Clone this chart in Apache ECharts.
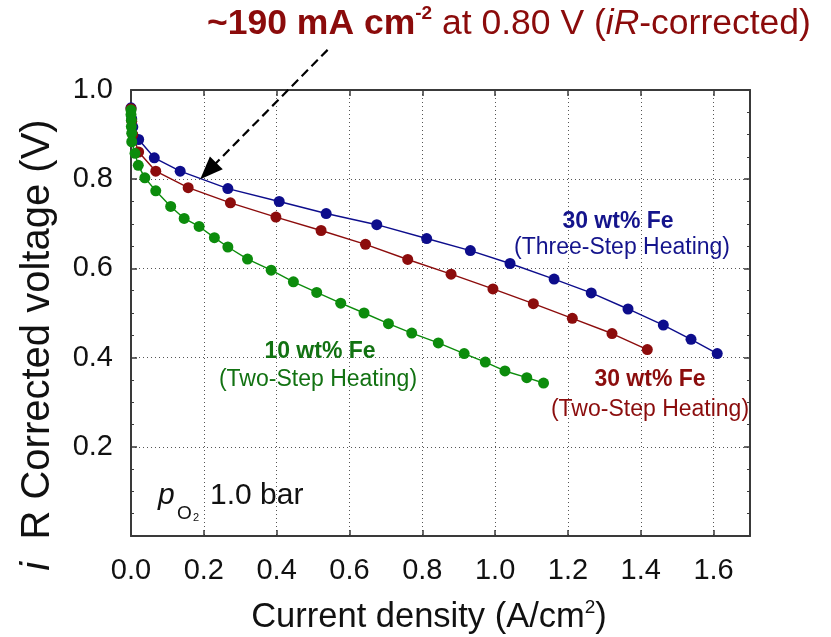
<!DOCTYPE html>
<html>
<head>
<meta charset="utf-8">
<script src="https://cdn.jsdelivr.net/npm/echarts@6/dist/echarts.min.js"></script>
<style>html,body{margin:0;padding:0;background:#fff}#c{width:831px;height:637px}</style>
</head>
<body>
<div id="c"></div>
<script>
// ---- data ----
const xTickLabels = ['0.0','0.2','0.4','0.6','0.8','1.0','1.2','1.4','1.6'];
const yTickLabels = ['0.2','0.4','0.6','0.8','1.0'];

const threeStep30X = [0.000, 0.002, 0.005, 0.021, 0.064, 0.135, 0.266, 0.407, 0.536, 0.675, 0.812, 0.932, 1.041, 1.162, 1.264, 1.365, 1.462, 1.538, 1.610];
const threeStep30Y = [0.960, 0.935, 0.917, 0.889, 0.848, 0.818, 0.779, 0.750, 0.723, 0.698, 0.667, 0.640, 0.611, 0.576, 0.545, 0.509, 0.473, 0.441, 0.409];

const twoStep30X = [0.000, 0.002, 0.005, 0.021, 0.068, 0.157, 0.273, 0.398, 0.522, 0.644, 0.760, 0.879, 0.994, 1.105, 1.212, 1.321, 1.418];
const twoStep30Y = [0.958, 0.930, 0.900, 0.861, 0.818, 0.781, 0.747, 0.715, 0.685, 0.654, 0.620, 0.587, 0.554, 0.521, 0.488, 0.454, 0.418];

const twoStep10X = [0.000, 0.000, 0.001, 0.001, 0.002, 0.002, 0.011, 0.020, 0.038, 0.068, 0.109, 0.146, 0.187, 0.229, 0.266, 0.320, 0.385, 0.446, 0.510, 0.576, 0.640, 0.707, 0.771, 0.844, 0.915, 0.973, 1.027, 1.087, 1.133];
const twoStep10Y = [0.955, 0.945, 0.932, 0.918, 0.903, 0.884, 0.858, 0.831, 0.803, 0.774, 0.739, 0.712, 0.694, 0.669, 0.648, 0.621, 0.596, 0.570, 0.546, 0.522, 0.500, 0.476, 0.455, 0.433, 0.409, 0.390, 0.370, 0.355, 0.343];

const arrowTip = [0.19, 0.80];
const arrowTail = [0.54, 1.09];

// ---- chart ----
const FONT = '"Liberation Sans", Arial, Helvetica, sans-serif';
const BLUE = '#0d0d8c', RED = '#8c0c0c', GREEN = '#0c8c0c';
const AXC = '#3a3a3a';
const zip = (xs, ys) => xs.map((x, i) => [x, ys[i]]);
const fmt = v => v.toFixed(1);

const chart = echarts.init(document.getElementById('c'), null, {renderer: 'canvas'});

const gridLine = {show: true, lineStyle: {type: [1, 3], color: '#555', width: 1}};
function xAx(pos, labels) {
  return {
    type: 'value', min: 0, max: 1.7, interval: 0.2, position: pos, gridIndex: 0,
    axisLine: {show: true, onZero: false, lineStyle: {color: AXC, width: 2}},
    axisTick: {show: true, inside: true, length: 6, lineStyle: {color: AXC, width: 1.5}},
    axisLabel: {show: labels, fontSize: 29, fontFamily: FONT, color: '#111', margin: 20, showMaxLabel: false,
      formatter: v => { const s = fmt(v); return xTickLabels.indexOf(s) >= 0 ? s : ''; }},
    splitLine: labels ? gridLine : {show: false}
  };
}
function yAx(pos, labels) {
  return {
    type: 'value', min: 0, max: 1.0, interval: 0.2, position: pos, gridIndex: 0,
    axisLine: {show: true, onZero: false, lineStyle: {color: AXC, width: 2}},
    axisTick: {show: true, inside: true, length: 6, lineStyle: {color: AXC, width: 1.5}},
    minorTick: {show: true, splitNumber: 4, length: 3, lineStyle: {color: AXC, width: 1}},
    axisLabel: {show: labels, fontSize: 29, fontFamily: FONT, color: '#111', margin: 18, showMinLabel: false,
      formatter: v => { const s = fmt(v); return yTickLabels.indexOf(s) >= 0 ? s : ''; }},
    splitLine: labels ? gridLine : {show: false}
  };
}
function ser(name, xs, ys, color) {
  return {
    name, type: 'line', data: zip(xs, ys), symbol: 'circle', symbolSize: 11, clip: false,
    itemStyle: {color}, lineStyle: {color, width: 1.4}, emphasis: {disabled: true}
  };
}

function txt(x, y, text, color, size, weight) {
  return {
    type: 'text', x, y, z: 50,
    style: {text, fill: color, fontSize: size, fontWeight: weight || 'normal', fontFamily: FONT,
      textAlign: 'center', textVerticalAlign: 'middle'}
  };
}

const option = {
  animation: false,
  backgroundColor: '#fff',
  grid: {left: 131, top: 90, width: 619, height: 446, containLabel: false},
  xAxis: [xAx('bottom', true), xAx('top', false)],
  yAxis: [yAx('left', true), yAx('right', false)],
  series: [
    ser('30 wt% Fe (Three-Step Heating)', threeStep30X, threeStep30Y, BLUE),
    ser('30 wt% Fe (Two-Step Heating)', twoStep30X, twoStep30Y, RED),
    ser('10 wt% Fe (Two-Step Heating)', twoStep10X, twoStep10Y, GREEN)
  ]
};
chart.setOption(option);

const tip = chart.convertToPixel({gridIndex: 0}, arrowTip);
const tail = chart.convertToPixel({gridIndex: 0}, arrowTail);
const dx = tip[0] - tail[0], dy = tip[1] - tail[1];
const L = Math.sqrt(dx * dx + dy * dy), ux = dx / L, uy = dy / L;
const headLen = 23, headW = 9;
const base = [tip[0] - ux * headLen, tip[1] - uy * headLen];
const px = -uy, py = ux;

const graphics = [
  // top annotation
  {
    type: 'text', x: 207, y: 24, z: 50,
    style: {
      text: '{b|~190 mA cm}{s|-2}{n| at 0.80 V (}{i|iR}{n|-corrected)}',
      textAlign: 'left', textVerticalAlign: 'middle', fontFamily: FONT, fill: '#8b0b0b',
      rich: {
        b: {fontSize: 35.5, fontWeight: 'bold', fill: '#8b0b0b', fontFamily: FONT, lineHeight: 40},
        s: {fontSize: 19, fontWeight: 'bold', fill: '#8b0b0b', fontFamily: FONT, verticalAlign: 'top', lineHeight: 19},
        n: {fontSize: 35.5, fill: '#8b0b0b', fontFamily: FONT, lineHeight: 40},
        i: {fontSize: 35.5, fontStyle: 'italic', fill: '#8b0b0b', fontFamily: FONT, lineHeight: 40}
      }
    }
  },
  // arrow
  {
    type: 'line', z: 40,
    shape: {x1: tail[0], y1: tail[1], x2: base[0] + ux * 2, y2: base[1] + uy * 2},
    style: {stroke: '#000', lineWidth: 2.2, lineDash: [9, 5]}
  },
  {
    type: 'polygon', z: 41,
    shape: {points: [tip, [base[0] + px * headW, base[1] + py * headW], [base[0] - px * headW, base[1] - py * headW]]},
    style: {fill: '#000'}
  },
  // series annotations
  txt(618, 222, '30 wt% Fe', '#14148c', 23, 'bold'),
  txt(622, 248, '(Three-Step Heating)', '#14148c', 23),
  txt(650, 380, '30 wt% Fe', '#8b0d0d', 23, 'bold'),
  txt(650, 410, '(Two-Step Heating)', '#8b0d0d', 23),
  txt(320, 352, '10 wt% Fe', '#127212', 23, 'bold'),
  txt(318, 380, '(Two-Step Heating)', '#127212', 23),
  // p_O2 1.0 bar
  {type: 'text', x: 158, y: 496, z: 50, style: {text: 'p', fill: '#111', fontSize: 30, fontStyle: 'italic', fontFamily: FONT, textAlign: 'left', textVerticalAlign: 'middle'}},
  {type: 'text', x: 177, y: 514, z: 50, style: {text: 'O', fill: '#111', fontSize: 19, fontFamily: FONT, textAlign: 'left', textVerticalAlign: 'middle'}},
  {type: 'text', x: 193, y: 518, z: 50, style: {text: '2', fill: '#111', fontSize: 11, fontFamily: FONT, textAlign: 'left', textVerticalAlign: 'middle'}},
  {type: 'text', x: 210, y: 496, z: 50, style: {text: '1.0 bar', fill: '#111', fontSize: 30, fontFamily: FONT, textAlign: 'left', textVerticalAlign: 'middle'}},
  // axis titles
  {
    type: 'text', x: 429, y: 617, z: 50,
    style: {
      text: '{n|Current density (A/cm}{s|2}{n|)}', textAlign: 'center', textVerticalAlign: 'middle', fill: '#111', fontFamily: FONT,
      rich: {
        n: {fontSize: 34.5, fill: '#111', fontFamily: FONT, lineHeight: 38},
        s: {fontSize: 19, fill: '#111', fontFamily: FONT, verticalAlign: 'top', lineHeight: 19}
      }
    }
  },
  {
    type: 'text', x: 38, y: 345, z: 50, rotation: Math.PI / 2,
    style: {
      text: '{i|i}{n|  R Corrected voltage (V)}', textAlign: 'center', textVerticalAlign: 'middle', fill: '#111', fontFamily: FONT,
      rich: {
        i: {fontSize: 40, fontStyle: 'italic', fill: '#111', fontFamily: FONT},
        n: {fontSize: 40, fill: '#111', fontFamily: FONT}
      }
    }
  }
];
chart.setOption({graphic: graphics});
</script>
</body>
</html>
